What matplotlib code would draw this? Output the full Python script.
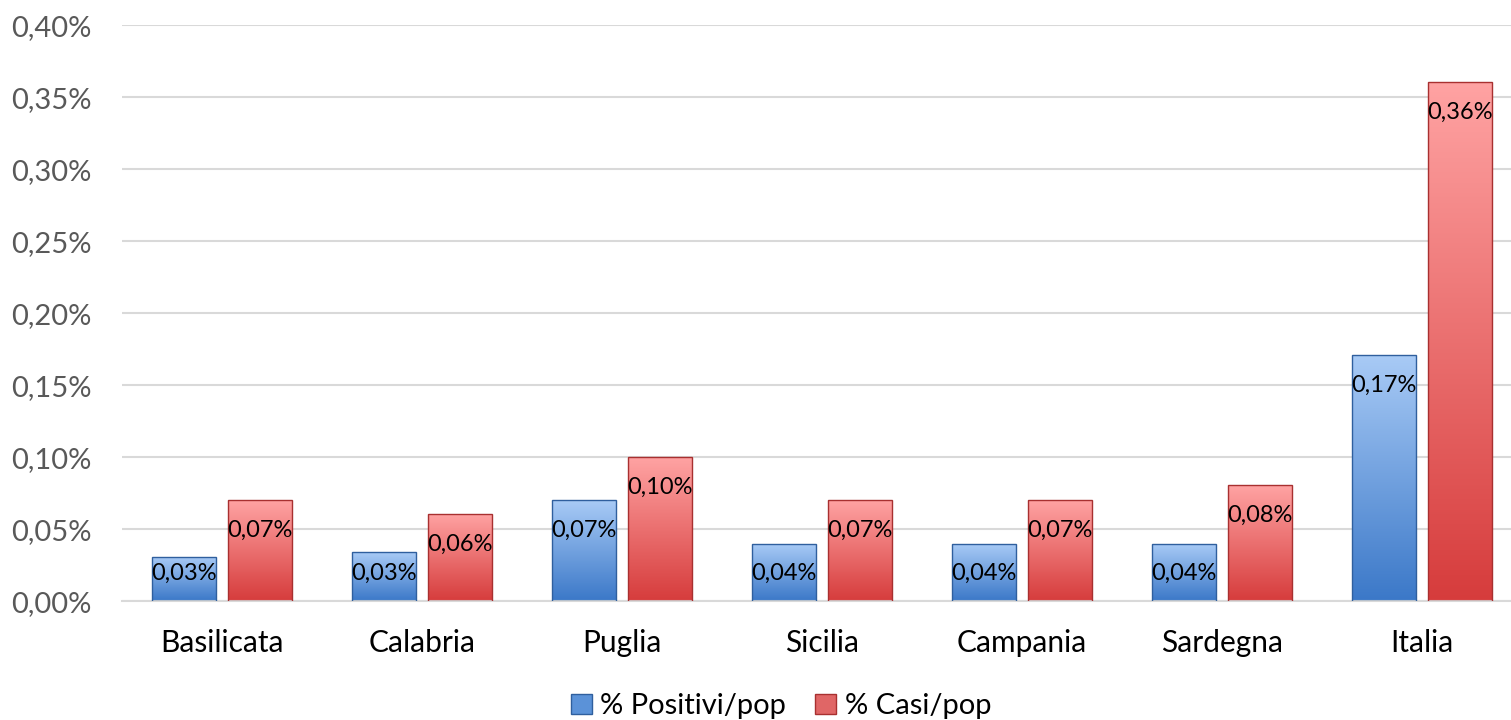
import numpy as np
import matplotlib.pyplot as plt
from matplotlib.colors import LinearSegmentedColormap
from matplotlib.patches import Patch

plt.rcParams['font.family'] = ['Lato', 'DejaVu Sans']

regioni = ['Basilicata', 'Calabria', 'Puglia', 'Sicilia', 'Campania', 'Sardegna', 'Italia']
positivi = [0.031, 0.034, 0.070, 0.040, 0.040, 0.040, 0.171]
casi = [0.070, 0.0605, 0.100, 0.070, 0.070, 0.0805, 0.3605]
lab_pos = ['0,03%', '0,03%', '0,07%', '0,04%', '0,04%', '0,04%', '0,17%']
lab_casi = ['0,07%', '0,06%', '0,10%', '0,07%', '0,07%', '0,08%', '0,36%']
yticks = [0, 0.05, 0.10, 0.15, 0.20, 0.25, 0.30, 0.35, 0.40]

blu = LinearSegmentedColormap.from_list('blu', ['#3b78c8', '#a9cbf6'])
rosso = LinearSegmentedColormap.from_list('rosso', ['#d63c3c', '#ffa3a3'])

fig = plt.figure(figsize=(15.11, 7.2), dpi=100)
# l'area del grafico prosegue oltre il bordo destro, come nell'originale
ax = fig.add_axes([0.0807, 0.165, 0.9265, 0.8])

x = np.arange(len(regioni))
w = 0.32
off = 0.19

grad = np.linspace(0, 1, 256).reshape(-1, 1)


def gradient_bars(xs, vals, cmap, edge):
    bars = ax.bar(xs, vals, w, color='none', edgecolor=edge, linewidth=1.0, zorder=3)
    for b in bars:
        x0, y0 = b.get_x(), b.get_y()
        im = ax.imshow(grad, cmap=cmap, origin='lower', aspect='auto',
                       extent=[x0, x0 + b.get_width(), y0, y0 + b.get_height()],
                       zorder=2)
        im.set_clip_path(b)
    return bars


gradient_bars(x - off, positivi, blu, '#2f5f9e')
gradient_bars(x + off, casi, rosso, '#a83030')

for xi, v, t in zip(x - off, positivi, lab_pos):
    ax.text(xi, max(v - 0.0208, 0.0194), t, ha='center', va='center', fontsize=17, color='black', zorder=4)
for xi, v, t in zip(x + off, casi, lab_casi):
    ax.text(xi, max(v - 0.0208, 0.0194), t, ha='center', va='center', fontsize=17, color='black', zorder=4)

ax.set_xlim(-0.5, len(regioni) - 0.5)
ax.set_ylim(0, 0.40)
ax.set_yticks(yticks)
ax.set_yticklabels([f'{v:.2f}%'.replace('.', ',') for v in yticks], fontsize=21, color='#595959')
ax.set_xticks(x)
ax.set_xticklabels(regioni, fontsize=21.5, color='black')
ax.tick_params(axis='x', length=0, pad=20)
ax.tick_params(axis='y', length=0, pad=22)
ax.grid(axis='y', color='#d9d9d9', linewidth=1.5, zorder=0)
ax.set_axisbelow(True)
for s in ['top', 'right', 'left']:
    ax.spines[s].set_visible(False)
ax.spines['bottom'].set_color('#d9d9d9')
ax.spines['bottom'].set_linewidth(1.5)

handles = [Patch(facecolor='#5b92d8', edgecolor='#2f5f9e', label='% Positivi/pop'),
           Patch(facecolor='#e06666', edgecolor='#a83030', label='% Casi/pop')]
fig.legend(handles=handles, loc='lower center', bbox_to_anchor=(0.517, -0.035), ncol=2,
           frameon=False, fontsize=21, handlelength=0.7, handleheight=0.7,
           handletextpad=0.3, columnspacing=1.0)

fig.savefig('out.png', dpi=100)
